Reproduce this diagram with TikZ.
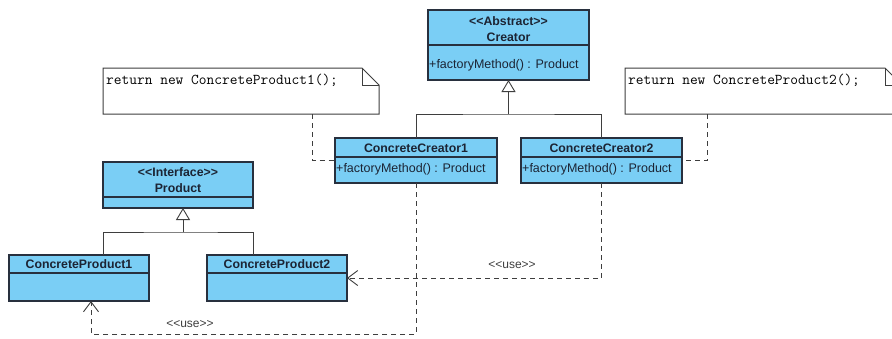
\documentclass[tikz,border=0pt]{standalone}
\usepackage{fontspec}
\setmainfont{Liberation Sans}
\usetikzlibrary{arrows.meta}
\definecolor{classfill}{RGB}{122,206,245}
\definecolor{classline}{RGB}{40,48,62}
\definecolor{wireline}{RGB}{62,62,62}
\definecolor{textdark}{RGB}{28,36,52}
% stereotype guillemets written as two plain angle brackets
\newcommand\stereo[1]{<\kern0pt<#1>\kern0pt>}

\tikzset{
  cls/.style={draw=classline, fill=classfill, line width=1.3pt, inner sep=0pt, outer sep=0pt, anchor=north west},
  divider/.style={draw=classline, line width=1.3pt},
  clsname/.style={font=\bfseries\fontsize{12.3}{14}\selectfont, text=textdark, inner sep=0pt, anchor=base},
  clsop/.style={font=\fontsize{12.5}{14}\selectfont, text=textdark, inner sep=0pt, anchor=base west},
  notearea/.style={inner sep=0pt, outer sep=0pt, anchor=north west},
  notebox/.style={draw=wireline, fill=white, line width=1pt},
  notetext/.style={font=\ttfamily\fontsize{15}{17}\selectfont, text=black, inner sep=0pt, anchor=base west},
  wire/.style={draw=wireline, line width=0.9pt},
  dep/.style={wire, dash pattern=on 5pt off 4pt},
  gen/.style={wire, -{Triangle[open, length=12pt, width=14pt, fill=white]}},
  usearrow/.style={dep, -{Straight Barb[length=10pt, width=15pt, line width=0.9pt]}},
  uselabel/.style={font=\fontsize{12}{14}\selectfont, text=wireline, inner sep=0pt, anchor=base}
}

\begin{document}
\begin{tikzpicture}[x=1pt, y=-1pt]
\clip (0,0) rectangle (892,338);
\fill[white] (0,0) rectangle (892,338);

% ---- notes ----
\node[notearea, minimum width=276pt, minimum height=46pt] (note1) at (103,68) {};
\draw[notebox] (note1.north west) -- ([xshift=-17pt]note1.north east)
  -- ([yshift=-17pt]note1.north east) -- (note1.south east) -- (note1.south west) -- cycle;
\draw[notebox, fill=none] ([xshift=-17pt]note1.north east) -- ([xshift=-17pt, yshift=-17pt]note1.north east)
  -- ([yshift=-17pt]note1.north east);
\node[notetext] (note1text) at (106,84) {return new ConcreteProduct1();};

\node[notearea, minimum width=277pt, minimum height=46pt] (note2) at (625,68) {};
\draw[notebox] (note2.north west) -- ([xshift=-17pt]note2.north east)
  -- ([yshift=-17pt]note2.north east) -- (note2.south east) -- (note2.south west) -- cycle;
\draw[notebox, fill=none] ([xshift=-17pt]note2.north east) -- ([xshift=-17pt, yshift=-17pt]note2.north east)
  -- ([yshift=-17pt]note2.north east);
\node[notetext] (note2text) at (628,84) {return new ConcreteProduct2();};

% ---- Creator ----
\node[cls, minimum width=161pt, minimum height=70pt] (creator) at (428,10) {};
\draw[divider] ([yshift=-35pt]creator.north west) -- ([yshift=-35pt]creator.north east);
\node[clsname] (creatorstereo) at (508.5,25) {\stereo{Abstract}};
\node[clsname] (creatorname) at (508.5,41.5) {Creator};
\node[clsop] (creatorop) at (429,68) {+factoryMethod() : Product};

% ---- ConcreteCreator1 ----
\node[cls, minimum width=162pt, minimum height=45pt] (cc1) at (335,138) {};
\draw[divider] ([yshift=-19pt]cc1.north west) -- ([yshift=-19pt]cc1.north east);
\node[clsname] (cc1name) at (416,152) {ConcreteCreator1};
\node[clsop] (cc1op) at (336,172) {+factoryMethod() : Product};

% ---- ConcreteCreator2 ----
\node[cls, minimum width=161pt, minimum height=45pt] (cc2) at (521,138) {};
\draw[divider] ([yshift=-19pt]cc2.north west) -- ([yshift=-19pt]cc2.north east);
\node[clsname] (cc2name) at (601.5,152) {ConcreteCreator2};
\node[clsop] (cc2op) at (522,172) {+factoryMethod() : Product};

% ---- Product ----
\node[cls, minimum width=150pt, minimum height=46pt] (product) at (103,162) {};
\draw[divider] ([yshift=-35pt]product.north west) -- ([yshift=-35pt]product.north east);
\node[clsname] (productstereo) at (178,176) {\stereo{Interface}};
\node[clsname] (productname) at (178,192) {Product};

% ---- ConcreteProduct1 / 2 ----
\node[cls, minimum width=140pt, minimum height=46pt] (cp1) at (9,255) {};
\draw[divider] ([yshift=-18pt]cp1.north west) -- ([yshift=-18pt]cp1.north east);
\node[clsname] (cp1name) at (79,268) {ConcreteProduct1};

\node[cls, minimum width=140pt, minimum height=46pt] (cp2) at (207,255) {};
\draw[divider] ([yshift=-18pt]cp2.north west) -- ([yshift=-18pt]cp2.north east);
\node[clsname] (cp2name) at (277,268) {ConcreteProduct2};

% ---- note anchors ----
\draw[dep] ([xshift=209pt]note1.south west) |- (cc1.west);
\draw[dep] ([xshift=82pt]note2.south west) |- (cc2.east);

% ---- generalisation: creators ----
\coordinate (gen1) at (508.5,114);
\draw[wire] (cc1.north) |- (gen1) -| (cc2.north);
\draw[gen] (gen1) -- (creator.south);

% ---- generalisation: products ----
\coordinate (gen2) at (183,232);
\draw[wire] ([xshift=24pt]cp1.north) |- (gen2) -| ([xshift=-24pt]cp2.north);
\draw[gen] (gen2) -- (gen2 |- product.south);

% ---- use dependencies ----
\draw[usearrow] (cc2.south) |- (cp2.east);
\coordinate (usebend) at (416,334);
\draw[usearrow] (cc1.south) -- (usebend) -| ([xshift=12pt]cp1.south);
\node[uselabel] (use1) at (512,268) {\stereo{use}};
\node[uselabel] (use2) at (190,327) {\stereo{use}};
\end{tikzpicture}
\end{document}
